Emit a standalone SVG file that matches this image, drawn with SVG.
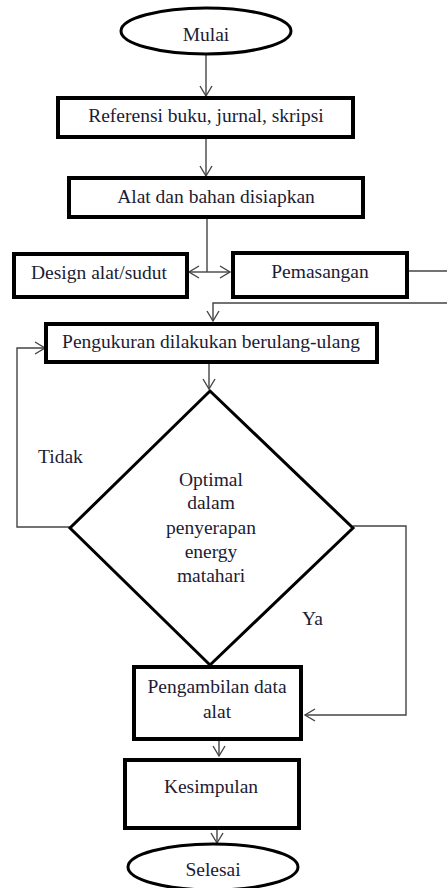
<svg xmlns="http://www.w3.org/2000/svg" width="447" height="888" viewBox="0 0 447 888">
<style>
.box{fill:#fff;stroke:#000;stroke-width:4}
.term{fill:#fff;stroke:#000;stroke-width:3}
.dia{fill:#fff;stroke:#000;stroke-width:3}
text{font-family:'Liberation Serif','DejaVu Serif',serif;font-size:19.5px;fill:#1c1c34}
.t{text-anchor:middle}
.c{fill:none;stroke:#444;stroke-width:1.4}
</style>
<defs>
<marker id="ah" markerWidth="14" markerHeight="14" refX="11" refY="7" orient="auto" markerUnits="userSpaceOnUse">
<path d="M1,1 L11,7 L1,13" fill="none" stroke="#444" stroke-width="1.4"/>
</marker>
</defs>
<rect width="447" height="888" fill="#fff"/>
<g id="connectors">
<line class="c" x1="206" y1="54" x2="206" y2="96" marker-end="url(#ah)"/>
<line class="c" x1="206" y1="138" x2="206" y2="176" marker-end="url(#ah)"/>
<line class="c" x1="207" y1="218" x2="207" y2="272"/>
<line class="c" x1="207" y1="272" x2="189" y2="272" marker-end="url(#ah)"/>
<line class="c" x1="207" y1="272" x2="230" y2="272" marker-end="url(#ah)"/>
<line class="c" x1="408" y1="271" x2="447" y2="271"/>
<polyline class="c" points="447,303 213,303 213,321" marker-end="url(#ah)"/>
<line class="c" x1="209" y1="363" x2="209" y2="389" marker-end="url(#ah)"/>
<polyline class="c" points="70,527 17,527 17,348 45,348" marker-end="url(#ah)"/>
<polyline class="c" points="353,526 406,526 406,715 305,715" marker-end="url(#ah)"/>
<line class="c" x1="219" y1="740" x2="219" y2="756" marker-end="url(#ah)"/>
<line class="c" x1="217" y1="829" x2="217" y2="843" marker-end="url(#ah)"/>
</g>
<g id="mulai">
<ellipse class="term" cx="206" cy="31" rx="85" ry="23"/>
<text class="t" x="206" y="41">Mulai</text>
</g>
<g id="referensi">
<rect class="box" x="58" y="98" width="295" height="39"/>
<text class="t" x="206" y="122">Referensi buku, jurnal, skripsi</text>
</g>
<g id="alat">
<rect class="box" x="69" y="178" width="294" height="39"/>
<text class="t" x="216" y="203">Alat dan bahan disiapkan</text>
</g>
<g id="design">
<rect class="box" x="14" y="254" width="173" height="43"/>
<text class="t" x="99" y="279">Design alat/sudut</text>
</g>
<g id="pemasangan">
<rect class="box" x="233" y="253" width="174" height="44"/>
<text class="t" x="320" y="278">Pemasangan</text>
</g>
<g id="pengukuran">
<rect class="box" x="46" y="324" width="331" height="38"/>
<text class="t" x="211" y="348">Pengukuran dilakukan berulang-ulang</text>
</g>
<g id="optimal">
<polygon class="dia" points="210,391 353,528 210,665 70,528"/>
<text class="t" x="211" y="486">Optimal</text>
<text class="t" x="211" y="509">dalam</text>
<text class="t" x="211" y="534">penyerapan</text>
<text class="t" x="211" y="558">energy</text>
<text class="t" x="211" y="582">matahari</text>
</g>
<text x="38" y="463">Tidak</text>
<text x="302" y="625">Ya</text>
<g id="pengambilan">
<rect class="box" x="134" y="667" width="167" height="72"/>
<text class="t" x="217" y="693">Pengambilan data</text>
<text class="t" x="217" y="718">alat</text>
</g>
<g id="kesimpulan">
<rect class="box" x="125" y="760" width="174" height="68"/>
<text class="t" x="211" y="793">Kesimpulan</text>
</g>
<g id="selesai">
<ellipse class="term" cx="213" cy="867" rx="85" ry="23"/>
<text class="t" x="213" y="876">Selesai</text>
</g>
</svg>
